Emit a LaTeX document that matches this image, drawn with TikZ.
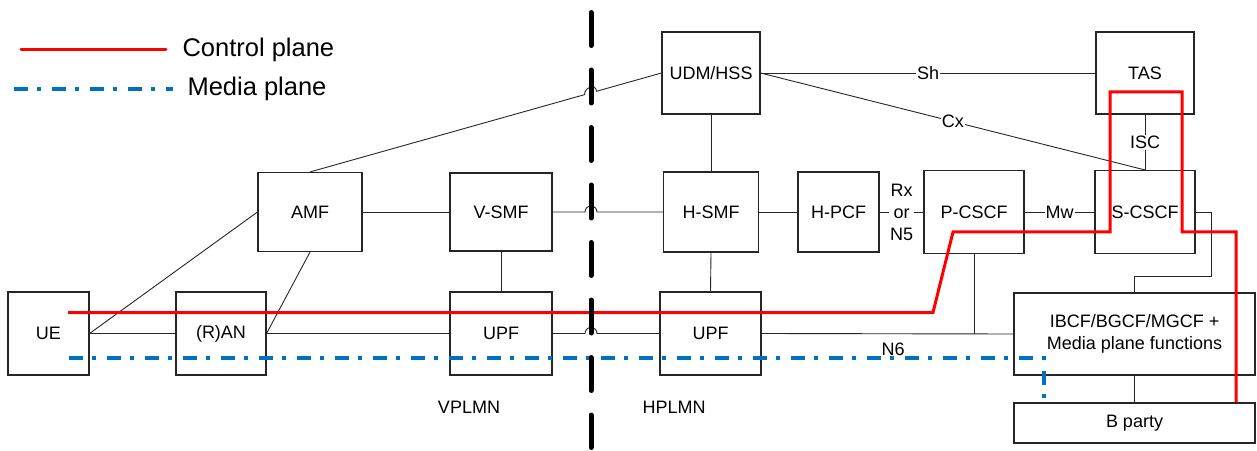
\documentclass[tikz,border=0pt]{standalone}
\usepackage{fontspec}
\setmainfont{Liberation Sans}
\usetikzlibrary{calc}
\definecolor{cpred}{RGB}{255,0,0}
\definecolor{mpblue}{RGB}{0,112,192}

\begin{document}
\begin{tikzpicture}[x=1pt, y=1pt, font=\fontsize{18}{22}\selectfont, align=center,
	box/.style={draw=black!85, line width=1.1pt, inner sep=0pt},
	link/.style={draw=black!85, line width=0.9pt},
	lbl/.style={fill=white, inner sep=1pt},
	bigtext/.style={anchor=west, font=\fontsize{25.5}{30}\selectfont}]
	\useasboundingbox (0,0) rectangle (1257,450);

	% 1. Legend
	\coordinate (cpleg) at (21,400);
	\coordinate (mpleg) at (14,361);
	\draw[cpred, line width=3pt, line cap=round] (cpleg) -- ++(145,0);
	\node[bigtext] (cptext) at (179,400) {Control plane};
	\draw[mpblue, line width=3.5pt, dash pattern=on 14pt off 9pt on 3.5pt off 11.5pt] (mpleg) -- ++(159,0);
	\node[bigtext] (mptext) at (184,361) {Media plane};

	% 2. Visited network (VPLMN)
	\node[box, minimum width=81, minimum height=83] (ue) at (48.5,116.5) {UE};
	\node[box, minimum width=90, minimum height=83] (ran) at (221,116.5) {(R)AN};
	\node[box, minimum width=104, minimum height=79] (amf) at (310,238) {AMF};
	\node[box, minimum width=102, minimum height=78] (vsmf) at (501,238) {V-SMF};
	\node[box, minimum width=102, minimum height=83] (upfv) at (501,116.5) {UPF};
	\node (vplmn) at (469,43) {VPLMN};

	% 3. Home network (HPLMN)
	\node[box, minimum width=98, minimum height=82] (udm) at (711,377) {UDM/HSS};
	\node[box, minimum width=95, minimum height=80] (hsmf) at (711,238) {H-SMF};
	\node[box, minimum width=101, minimum height=83] (upfh) at (710.5,116.5) {UPF};
	\node[box, minimum width=81, minimum height=80] (hpcf) at (838.5,238) {H-PCF};
	\node[box, minimum width=100, minimum height=83] (pcscf) at (974,238) {P-CSCF};
	\node[box, minimum width=100, minimum height=83] (scscf) at (1145,238) {S-CSCF};
	\node[box, minimum width=98, minimum height=82] (tas) at (1145,377) {TAS};
	\node[box, minimum width=241, minimum height=82] (ibcf) at (1134.5,116) {IBCF/BGCF/MGCF +\\Media plane functions};
	\node[box, line width=1.8pt, minimum width=241, minimum height=40] (bparty) at (1134.5,27) {B party};
	\node (hplmn) at (674,43) {HPLMN};
	\node (n6) at (893,101) {N6};

	% 4. Interfaces
	\coordinate (bordertop) at (591,437.5);
	\coordinate (borderbot) at (591,2.5);
	\draw[link] (ue.east) -- (ran.west);
	\draw[link] (ue.east) -- (amf.west);
	\draw[link] (ran.east) -- (amf.south);
	\draw[link] (ran.east) -- (upfv.west);
	\draw[link] (amf.east) -- (vsmf.west);
	\draw[link] (vsmf.south) -- (upfv.north);
	\draw[link] (amf.north) -- ($(amf.north)!0.781!(udm.west)$) to[out=90, in=90, looseness=1.6] ($(amf.north)!0.815!(udm.west)$) -- (udm.west);
	\draw[link] (vsmf.east) -- ($(vsmf.east -| bordertop)+(-6,0)$) arc[start angle=180, end angle=0, radius=6pt] -- (hsmf.west);
	\draw[link] (upfv.east) -- ($(upfv.east -| bordertop)+(-6,0)$) arc[start angle=180, end angle=0, radius=6pt] -- (upfh.west);
	\draw[link] (udm.south) -- (hsmf.north);
	\draw[link] (hsmf.south) -- (upfh.north);
	\draw[link] (hsmf.east) -- (hpcf.west);
	\draw[link] (hpcf.east) -- node[lbl] (rx) {Rx\\or\\N5} (pcscf.west);
	\draw[link] (pcscf.east) -- node[lbl] (mw) {Mw} (scscf.west);
	\draw[link] (udm.east) -- node[lbl] (sh) {Sh} (tas.west);
	\draw[link] (udm.east) -- node[lbl] (cx) {Cx} (scscf.north);
	\draw[link] (tas.south) -- node[lbl] (isc) {ISC} (scscf.north);
	\draw[link] (upfh.east) -- (ibcf.west);
	\draw[link] (pcscf.south) -- (pcscf.south |- ibcf.west);
	\draw[link] (scscf.east) -- ++(16,0) |- ($(ibcf.north)+(0,16)$) -- (ibcf.north);
	\draw[link] (ibcf.south) -- (bparty.north);

	% 5. Control plane and media plane paths
	\coordinate (cpstart) at (68,137.5);
	\coordinate (mpstart) at (69,92);
	\draw[cpred, line width=3pt] (cpstart) -- (933,137.5) -- (953,218) -- (1110,218) -- (1110,358)
		-- (1182,358) -- (1182,218) -- (1236,218) -- (1236,0 |- bparty.north);
	\draw[mpblue, line width=3.5pt, dash pattern=on 14pt off 9pt on 3.5pt off 11.5pt] (mpstart) -- (1044,92) -- (1044,52);

	% 6. Network border
	\draw[line width=5pt, line cap=round, dash pattern=on 33pt off 24.5pt] (bordertop) -- (borderbot);
\end{tikzpicture}
\end{document}
